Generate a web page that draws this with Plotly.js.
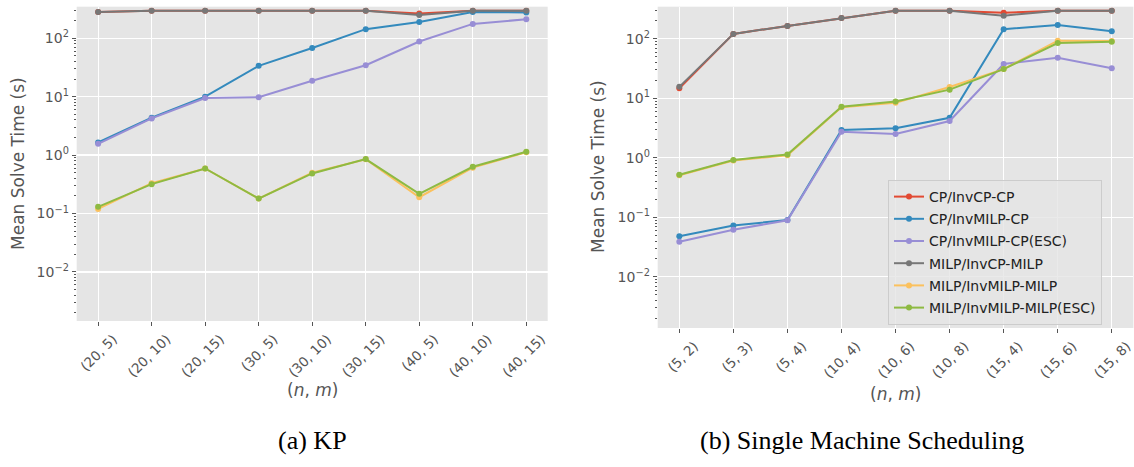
<!DOCTYPE html>
<html>
<head>
<meta charset="utf-8">
<script src="https://cdn.plot.ly/plotly-3.0.1.min.js"></script>
<style>html,body{margin:0;padding:0;background:#fff;}#chart{width:1134px;height:467px;}</style>
</head>
<body>
<div id="chart"></div>
<script>
// ---------- data ----------
const seriesNames = ['CP/InvCP-CP', 'CP/InvMILP-CP', 'CP/InvMILP-CP(ESC)', 'MILP/InvCP-MILP', 'MILP/InvMILP-MILP', 'MILP/InvMILP-MILP(ESC)'];
const seriesColors = ['#E24A33', '#348ABD', '#988ED5', '#777777', '#FBC15E', '#8EBA42'];

const kpCats = ['(20, 5)', '(20, 10)', '(20, 15)', '(30, 5)', '(30, 10)', '(30, 15)', '(40, 5)', '(40, 10)', '(40, 15)'];
const kpCpInvCpCp = [282, 297, 297, 297, 297, 297, 265, 297, 297];
const kpCpInvMilpCp = [1.65, 4.35, 10.0, 33.7, 68, 143, 190, 280, 277];
const kpCpInvMilpCpEsc = [1.56, 4.24, 9.5, 9.8, 18.7, 34.5, 88, 176, 211];
const kpMilpInvCpMilp = [282, 297, 297, 297, 297, 297, 250, 295, 295];
const kpMilpInvMilpMilp = [0.12, 0.33, 0.59, 0.18, 0.50, 0.85, 0.19, 0.61, 1.12];
const kpMilpInvMilpMilpEsc = [0.13, 0.318, 0.59, 0.18, 0.485, 0.853, 0.217, 0.63, 1.14];

const smsCats = ['(5, 2)', '(5, 3)', '(5, 4)', '(10, 4)', '(10, 6)', '(10, 8)', '(15, 4)', '(15, 6)', '(15, 8)'];
const smsCpInvCpCp = [14.8, 121, 165, 224, 297, 297, 275, 297, 297];
const smsCpInvMilpCp = [0.048, 0.073, 0.090, 2.94, 3.13, 4.72, 145, 171, 134];
const smsCpInvMilpCpEsc = [0.039, 0.062, 0.089, 2.75, 2.52, 4.15, 37.8, 48, 32];
const smsMilpInvCpMilp = [15.6, 121, 165, 224, 297, 297, 245, 297, 297];
const smsMilpInvMilpMilp = [0.51, 0.90, 1.10, 7.1, 8.4, 15.5, 31, 93, 92];
const smsMilpInvMilpMilpEsc = [0.52, 0.92, 1.14, 7.2, 8.85, 14.0, 31, 85, 89];

const yTickVals = [0.01, 0.1, 1, 10, 100];
const yTickText = ['10<sup>\u22122</sup>', '10<sup>\u22121</sup>', '10<sup>0</sup>', '10<sup>1</sup>', '10<sup>2</sup>'];
const minorMultipliers = [2, 3, 4, 5, 6, 7, 8, 9];
const minorDecades = [0.001, 0.01, 0.1, 1, 10, 100];

// ---------- build ----------
const minorVals = [];
minorDecades.forEach(d => minorMultipliers.forEach(m => minorVals.push(m * d)));

const kpSeries = [kpCpInvCpCp, kpCpInvMilpCp, kpCpInvMilpCpEsc, kpMilpInvCpMilp, kpMilpInvMilpMilp, kpMilpInvMilpMilpEsc];
const smsSeries = [smsCpInvCpCp, smsCpInvMilpCp, smsCpInvMilpCpEsc, smsMilpInvCpMilp, smsMilpInvMilpMilp, smsMilpInvMilpMilpEsc];

const traces = [];
kpSeries.forEach((ys, i) => traces.push({
  x: kpCats, y: ys, xaxis: 'x', yaxis: 'y', type: 'scatter', mode: 'lines+markers',
  name: seriesNames[i], legendgroup: 'g' + i, showlegend: false,
  line: {color: seriesColors[i], width: 2}, marker: {color: seriesColors[i], size: 6}
}));
smsSeries.forEach((ys, i) => traces.push({
  x: smsCats, y: ys, xaxis: 'x2', yaxis: 'y2', type: 'scatter', mode: 'lines+markers',
  name: seriesNames[i], legendgroup: 'g' + i, showlegend: true,
  line: {color: seriesColors[i], width: 2}, marker: {color: seriesColors[i], size: 6}
}));

const W = 1134, H = 467;
const xTickFont = {family: 'DejaVu Sans', size: 13.5, color: '#555555'};
const yTickFont = {family: 'DejaVu Sans', size: 14, color: '#555555'};

function xAxis(dom, anchor, cats) {
  return {
    domain: dom, anchor: anchor, type: 'category', categoryorder: 'array', categoryarray: cats,
    range: [-0.4, 8.4], showgrid: true, gridcolor: '#FFFFFF', gridwidth: 1.2,
    zeroline: false, showline: false, ticks: 'outside', ticklen: 4, tickwidth: 1, tickcolor: '#555555',
    tickangle: -45, tickfont: xTickFont, ticklabelshift: 15, ticklabelstandoff: 0
  };
}
function yAxis(dom, anchor, rng) {
  return {
    domain: dom, anchor: anchor, type: 'log', range: rng,
    tickmode: 'array', tickvals: yTickVals, ticktext: yTickText,
    showgrid: true, gridcolor: '#FFFFFF', gridwidth: 1.2, zeroline: false, showline: false,
    ticks: 'outside', ticklen: 4, tickwidth: 1, tickcolor: '#555555', tickfont: yTickFont,
    minor: {tickmode: 'array', tickvals: minorVals, ticks: 'outside', ticklen: 2, tickwidth: 1, tickcolor: '#555555', showgrid: false}
  };
}

const layout = {
  width: W, height: H,
  margin: {l: 0, r: 0, t: 0, b: 0},
  paper_bgcolor: '#FFFFFF', plot_bgcolor: '#E5E5E5',
  font: {family: 'DejaVu Sans', color: '#555555'},
  xaxis: xAxis([76.7 / W, 547.7 / W], 'y', kpCats),
  yaxis: yAxis([1 - 321 / H, 1 - 6.7 / H], 'x', [-2.84, 2.54]),
  xaxis2: xAxis([657.7 / W, 1133.4 / W], 'y2', smsCats),
  yaxis2: yAxis([1 - 328 / H, 1 - 6.7 / H], 'x2', [-2.86, 2.54]),
  showlegend: true,
  legend: {
    x: 1102 / W, xanchor: 'right', y: 1 - 325 / H, yanchor: 'bottom',
    bgcolor: 'rgba(229,229,229,0.8)', bordercolor: '#CCCCCC', borderwidth: 1,
    font: {family: 'DejaVu Sans', size: 14, color: '#222222'},
    traceorder: 'grouped', tracegroupgap: 1, itemwidth: 30
  },
  annotations: [
    {text: 'Mean Solve Time (s)', x: 18 / W, y: 1 - 164 / H, xref: 'paper', yref: 'paper', textangle: -90, showarrow: false, xanchor: 'center', yanchor: 'middle', font: {family: 'DejaVu Sans', size: 17, color: '#555555'}},
    {text: 'Mean Solve Time (s)', x: 598 / W, y: 1 - 167 / H, xref: 'paper', yref: 'paper', textangle: -90, showarrow: false, xanchor: 'center', yanchor: 'middle', font: {family: 'DejaVu Sans', size: 17, color: '#555555'}},
    {text: '(<i>n</i>, <i>m</i>)', x: 312 / W, y: 1 - 390 / H, xref: 'paper', yref: 'paper', showarrow: false, xanchor: 'center', yanchor: 'middle', font: {family: 'DejaVu Sans', size: 17, color: '#555555'}},
    {text: '(<i>n</i>, <i>m</i>)', x: 895 / W, y: 1 - 394 / H, xref: 'paper', yref: 'paper', showarrow: false, xanchor: 'center', yanchor: 'middle', font: {family: 'DejaVu Sans', size: 17, color: '#555555'}},
    {text: '(a) KP', x: 312 / W, y: 1 - 440 / H, xref: 'paper', yref: 'paper', showarrow: false, xanchor: 'center', yanchor: 'middle', font: {family: 'Liberation Serif', size: 26, color: '#000000'}},
    {text: '(b) Single Machine Scheduling', x: 862 / W, y: 1 - 440 / H, xref: 'paper', yref: 'paper', showarrow: false, xanchor: 'center', yanchor: 'middle', font: {family: 'Liberation Serif', size: 26, color: '#000000'}}
  ]
};

Plotly.newPlot('chart', traces, layout, {staticPlot: true, displayModeBar: false});
</script>
</body>
</html>
